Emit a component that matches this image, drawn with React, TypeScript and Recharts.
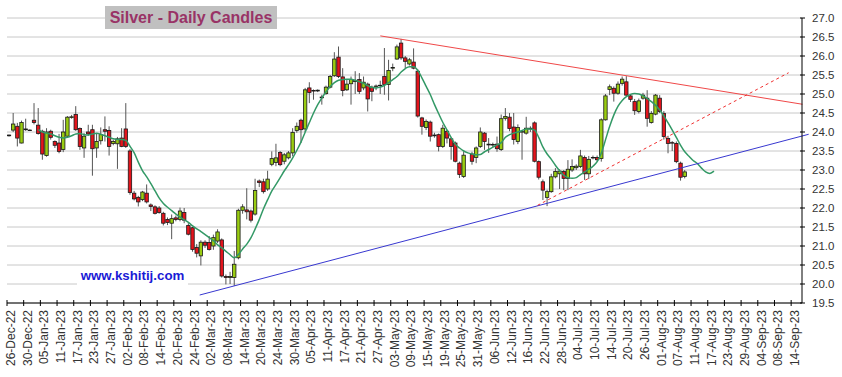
import {
  ComposedChart,
  Bar,
  Line,
  XAxis,
  YAxis,
  CartesianGrid,
  ReferenceLine,
} from "recharts";

// tick labels, one every 4 trading days
const tickDates = [
  "26-Dec-22", "30-Dec-22", "05-Jan-23", "11-Jan-23", "17-Jan-23", "23-Jan-23",
  "27-Jan-23", "02-Feb-23", "08-Feb-23", "14-Feb-23", "20-Feb-23", "24-Feb-23",
  "02-Mar-23", "08-Mar-23", "14-Mar-23", "20-Mar-23", "24-Mar-23", "30-Mar-23",
  "05-Apr-23", "11-Apr-23", "17-Apr-23", "21-Apr-23", "27-Apr-23", "03-May-23",
  "09-May-23", "15-May-23", "19-May-23", "25-May-23", "31-May-23", "06-Jun-23",
  "12-Jun-23", "16-Jun-23", "22-Jun-23", "28-Jun-23", "04-Jul-23", "10-Jul-23",
  "14-Jul-23", "20-Jul-23", "26-Jul-23", "01-Aug-23", "07-Aug-23", "11-Aug-23",
  "17-Aug-23", "23-Aug-23", "29-Aug-23", "04-Sep-23", "08-Sep-23", "14-Sep-23",
];

const priceTicks = [19.5, 20, 20.5, 21, 21.5, 22, 22.5, 23, 23.5, 24, 24.5, 25, 25.5, 26, 26.5, 27];

// daily candles, one per weekday from 26-Dec-22 (null = no bar)
const opens = [
  23.92, 24.05, 24.15, 23.71, 24.08, 24.05, 24.31, 24.18, 24.02, 23.38,
  24.02, 23.75, 23.71, 23.54, 23.89, 24.38, 24.46, 24.09, 23.58, 24.0,
  24.06, 23.58, 23.77, 24.06, 24.04, 23.7, 23.69, 23.84, 24.08, 23.5,
  22.39, 22.28, 22.22, 22.39, 22.08, 22.03, 22.0, 21.86, 21.7, 21.6,
  21.74, 21.7, 21.88, 21.54, 21.48, 20.96, 20.74, 21.1, 21.09, 21.0,
  21.13, 21.16, 20.2, 20.17, 20.17, 20.69, 21.94, 21.95, 21.92, 21.84,
  22.71, 22.69, 22.5, 23.15, 23.2, 23.46, 23.23, 23.32, 23.45, 24.04,
  24.31, 24.08, 25.16, 25.09, 25.08, 24.92, 25.01, 25.18, 25.48, 25.97,
  25.45, 25.11, 25.27, 25.36, 25.38, 25.16, 25.26, 25.18, 25.2, 25.22,
  25.46, 25.25, 25.68, 25.92, 26.34, 25.95, 25.79, 25.84, 25.6, 24.37,
  24.12, 24.26, 23.9, 23.93, 23.62, 24.02, 23.82, 23.71, 23.18, 22.83,
  null, 23.42, 23.33, 23.62, 23.97, 23.68, 23.66, 23.68, 23.54, 24.36,
  24.39, 24.13, 23.75, 24.0, 23.97, 24.08, 24.24, 23.22, 22.69, 22.28,
  22.43, 22.82, 22.9, 22.96, 22.78, 23.0, 23.06, 23.09, 23.33, 22.9,
  23.32, 23.33, 23.3, 24.32, 25.12, 25.15, 25.02, 25.28, 25.32, 24.95,
  24.8, 24.54, 24.89, 24.89, 24.25, 24.47, 24.89, 24.49, 23.83, 23.72,
  23.7, 23.18, 22.83,
];
const highs = [
  23.93, 24.5, 24.24, 24.3, 24.35, 24.07, 24.76, 24.63, 24.06, 24.1,
  24.06, 23.78, 23.95, 24.32, 24.42, 24.45, 24.68, 24.12, 23.97, 24.19,
  24.19, 23.95, 24.12, 24.41, 24.15, 23.8, 23.87, 24.1, 24.76, 23.55,
  22.45, 22.32, 22.45, 22.62, 22.12, 22.07, 22.05, 21.9, 21.75, 21.83,
  21.8, 22.01, 22.0, 21.6, 21.5, 21.05, 21.15, 21.15, 21.26, 21.3,
  21.44, 21.2, 20.25, 20.32, 20.87, 21.98, 22.1, 22.52, 21.96, 22.77,
  22.75, 22.77, 22.98, 23.49, 23.69, 23.5, 23.45, 23.5, 24.1, 24.25,
  24.35, 25.16, 25.31, 25.12, 25.12, 24.98, 25.22, 25.5, 26.1, 26.25,
  25.68, 25.38, 25.46, 25.6, 25.55, 25.46, 25.3, 25.22, 25.25, 25.35,
  26.21, 25.9, 25.8, 26.3, 26.45, 26.0, 25.95, 26.2, 25.65, 24.4,
  24.33, 24.3, 23.98, 23.96, 24.19, 24.06, 23.85, 23.75, 23.22, 23.49,
  null, 23.48, 23.62, 24.12, 24.0, 23.84, 23.72, 23.88, 24.46, 24.63,
  24.5, 24.5, 24.2, 24.04, 24.4, 24.15, 24.28, 23.25, 22.75, 22.48,
  22.9, 23.05, 23.02, 23.0, 23.26, 23.28, 23.15, 23.53, 23.38, 23.37,
  23.38, 23.38, 24.36, 25.0, 25.25, 25.2, 25.33, 25.46, 25.47, 25.0,
  24.87, 24.88, 25.03, 25.1, 24.55, 25.0, 24.97, 24.55, 23.9, 23.76,
  23.75, 23.22, 23.0,
];
const lows = [
  23.88, 24.0, 23.62, 23.7, 24.03, 24.03, 24.2, 23.93, 23.27, 23.35,
  23.8, 23.58, 23.44, 23.47, 23.85, 24.35, 24.03, 23.53, 23.32, 23.9,
  22.85, 23.32, 23.67, 23.75, 23.38, 23.65, 23.03, 23.6, 23.58, 22.35,
  22.2, 22.04, 22.18, 22.12, 21.92, 21.83, 21.85, 21.54, 21.55, 21.18,
  21.65, 21.65, 21.6, 21.28, 20.85, 20.7, 20.49, 20.95, 20.88, 20.9,
  21.08, 20.17, 19.99, 20.0, 19.95, 20.65, 21.85, 21.7, 21.62, 21.8,
  22.55, 22.38, 22.45, 23.1, 23.1, 23.1, 23.15, 23.28, 23.36, 23.98,
  23.71, 24.0, 24.76, 24.85, 25.05, 24.72, 24.98, 25.15, 25.45, 25.42,
  24.94, 25.08, 24.72, 25.0, 25.0, 25.1, 24.54, 24.81, 25.1, 25.0,
  24.98, 24.83, 25.6, 25.9, 25.9, 25.68, 25.75, 25.65, 24.38, 23.93,
  24.05, 23.75, 23.85, 23.49, 23.58, 23.7, 23.27, 23.2, 22.79, 22.79,
  null, 23.14, 23.18, 23.58, 23.53, 23.45, 23.6, 23.48, 23.5, 24.3,
  24.02, 23.67, 23.68, 23.27, 23.93, 24.0, 23.2, 22.75, 22.21, 22.05,
  22.4, 22.78, 22.5, 22.47, 22.47, 22.95, 23.0, 23.05, 22.74, 22.76,
  23.28, 23.22, 23.22, 24.3, 24.97, 24.8, 24.98, 25.22, 24.95, 24.79,
  24.45, 24.49, 24.85, 24.14, 24.22, 24.44, 24.5, 23.8, 23.44, 23.5,
  23.18, 22.72, 22.78,
];
const closes = [
  23.9, 24.21, 23.84, 24.25, 24.06, 24.04, 24.25, 23.96, 23.42, 24.0,
  23.86, 23.65, 23.49, 24.0, 24.39, 24.4, 24.06, 23.62, 23.89, 23.95,
  23.56, 23.75, 23.93, 24.02, 23.62, 23.75, 23.82, 23.62, 23.62, 22.41,
  22.24, 22.16, 22.42, 22.16, 22.04, 21.86, 21.88, 21.6, 21.62, 21.72,
  21.7, 21.92, 21.68, 21.31, 20.91, 20.81, 21.1, 21.02, 20.91, 21.22,
  21.37, 20.21, 20.17, 20.2, 20.52, 21.94, 22.03, 21.9, 21.68, 22.46,
  22.67, 22.43, 22.76, 23.3, 23.32, 23.14, 23.4, 23.45, 23.99, 24.15,
  24.06, 25.11, 25.04, 25.08, 25.1, 24.9, 25.18, 25.46, 25.92, 25.46,
  25.09, 25.26, 25.38, 25.33, 25.07, 25.31, 24.87, 25.07, 25.21, 25.23,
  25.25, 25.62, 25.7, 26.24, 25.95, 25.86, 25.9, 25.68, 24.42, 24.15,
  24.28, 23.89, 23.92, 23.62, 24.1, 23.84, 23.62, 23.23, 22.88, 23.39,
  null, 23.23, 23.58, 24.0, 23.75, 23.66, 23.67, 23.56, 24.35, 24.41,
  24.09, 23.8, 24.12, 24.01, 24.1, 24.1, 23.23, 22.81, 22.47, 22.43,
  22.82, 22.96, 22.97, 22.78, 23.02, 23.09, 23.1, 23.37, 22.9, 23.28,
  23.33, 23.27, 24.32, 24.95, 25.19, 25.02, 25.26, 25.39, 24.97, 24.86,
  24.56, 24.82, 24.97, 24.36, 24.49, 24.97, 24.54, 23.88, 23.7, 23.71,
  23.22, 22.81, 22.95,
];

// green average line, starts on the 8th bar and runs past the last candle
const maStart = 7;
const movingAvg = [
  24.06, 24.0, 23.97, 23.95, 23.9, 23.86, 23.84, 23.86, 23.9, 23.95,
  23.96, 23.93, 23.92, 23.95, 23.97, 23.94, 23.9, 23.86, 23.82, 23.8,
  23.8, 23.78, 23.62, 23.45, 23.2, 22.98, 22.82, 22.64, 22.45, 22.26,
  22.12, 22.02, 21.93, 21.84, 21.76, 21.69, 21.62, 21.53, 21.45, 21.38,
  21.3, 21.22, 21.14, 21.03, 20.95, 20.86, 20.77, 20.69, 20.78, 20.92,
  21.05, 21.22, 21.45, 21.7, 21.98, 22.22, 22.45, 22.62, 22.8, 22.98,
  23.14, 23.32, 23.52, 23.74, 24.0, 24.25, 24.5, 24.72, 24.9, 25.06,
  25.2, 25.3, 25.36, 25.38, 25.39, 25.39, 25.36, 25.32, 25.28, 25.22,
  25.17, 25.16, 25.18, 25.23, 25.3, 25.38, 25.46, 25.58, 25.67, 25.72,
  25.72, 25.62, 25.42, 25.2, 24.98, 24.72, 24.48, 24.25, 24.05, 23.85,
  23.68, 23.58, 23.5, 23.45, 23.42, 23.4, 23.41, 23.48, 23.54, 23.6,
  23.66, 23.72, 23.86, 23.93, 23.97, 24.0, 24.04, 24.08, 24.08, 24.05,
  23.85, 23.6, 23.42, 23.28, 23.12, 22.98, 22.86, 22.8, 22.78, 22.8,
  22.88, 22.95, 23.02, 23.1, 23.22, 23.45, 23.8, 24.15, 24.45, 24.68,
  24.83, 24.93, 24.99, 25.01, 25.0, 24.95, 24.88, 24.8, 24.7, 24.58,
  24.42, 24.24, 24.05, 23.85, 23.65, 23.48, 23.36, 23.25, 23.17, 23.05,
  22.95, 22.91, 22.97,
];

// hand-drawn trend lines (day, price)
const resistance = [{ x: 89.5, y: 26.53 }, { x: 190.7, y: 24.73 }];
const support = [{ x: 46.2, y: 19.71 }, { x: 192.2, y: 23.94 }];
const channel = [{ x: 127.2, y: 22.07 }, { x: 187.4, y: 25.56 }];

const font = "'Liberation Sans', Arial, sans-serif";

const rows = Array.from({ length: maStart + movingAvg.length }, (_, i) => {
  const o = opens[i];
  const ok = o != null;
  return {
    day: i + 0.5,
    range: ok ? [lows[i], highs[i]] : null,
    open: ok ? o : null,
    high: ok ? highs[i] : null,
    low: ok ? lows[i] : null,
    close: ok ? closes[i] : null,
    ma: i >= maStart ? movingAvg[i - maStart] : null,
  };
});

function Candle(props: any) {
  const { x, y, width, height, payload } = props;
  if (payload.open == null || !height) return null;
  const { open, close, high, low } = payload;
  const cx = x + width / 2;
  const k = height / (high - low);
  const py = (v: number) => y + (high - v) * k;
  const top = py(Math.max(open, close));
  const bot = py(Math.min(open, close));
  return (
    <g>
      <line x1={cx} x2={cx} y1={y} y2={y + height} stroke="#555" strokeWidth={1} />
      <rect
        x={cx - 1.7}
        y={top}
        width={3.4}
        height={Math.max(bot - top, 0.5)}
        fill={close >= open ? "#99cc11" : "#e3141c"}
        stroke="#1a1a1a"
        strokeWidth={0.8}
      />
    </g>
  );
}

function XTick({ x, y, payload }: any) {
  const label = tickDates[Math.round(payload.value / 4)];
  return (
    <g>
      <line x1={x} x2={x} y1={y - 3} y2={y + 3} stroke="#000" />
      <text
        x={x}
        y={y + 7}
        dy={8}
        transform={`rotate(-90 ${x} ${y + 7})`}
        textAnchor="end"
        fontSize={12}
        fontFamily={font}
        fill="#333"
      >
        {label}
      </text>
    </g>
  );
}

function YTick({ x, y, payload }: any) {
  return (
    <g>
      <line x1={x - 2} x2={x + 3} y1={y} y2={y} stroke="#000" />
      <text x={x + 10} y={y} dy={4} fontSize={11.5} fontFamily={font} fill="#333">
        {payload.value.toFixed(1)}
      </text>
    </g>
  );
}

export default function App() {
  return (
    <div style={{ position: "absolute", left: 0, top: 0, width: 842, height: 377, background: "#fff" }}>
      <ComposedChart
        width={842}
        height={377}
        data={rows}
        margin={{ top: 18, right: 4, bottom: 4, left: 7 }}
      >
        <CartesianGrid vertical={false} stroke="#c8c8c8" />
        <XAxis
          dataKey="day"
          type="number"
          domain={[0, 190.6]}
          ticks={tickDates.map((_, k) => k * 4)}
          interval={0}
          allowDataOverflow
          height={70}
          tickLine={false}
          tickSize={0}
          tickMargin={0}
          axisLine={{ stroke: "#000" }}
          tick={<XTick />}
        />
        <YAxis
          orientation="right"
          domain={[19.5, 27]}
          ticks={priceTicks}
          interval={0}
          allowDataOverflow
          width={36}
          tickLine={false}
          tickSize={0}
          tickMargin={0}
          axisLine={{ stroke: "#000" }}
          tick={<YTick />}
        />
        <Bar dataKey="range" barSize={4} shape={(p: any) => <Candle {...p} />} isAnimationActive={false} />
        <Line
          dataKey="ma"
          type="monotone"
          stroke="#339966"
          strokeWidth={1.5}
          dot={false}
          activeDot={false}
          isAnimationActive={false}
        />
        <ReferenceLine segment={resistance} stroke="#f04848" strokeWidth={1} ifOverflow="visible" />
        <ReferenceLine segment={support} stroke="#3838d0" strokeWidth={1} ifOverflow="visible" />
        <ReferenceLine segment={channel} stroke="#f03030" strokeWidth={1} strokeDasharray="3 3" ifOverflow="visible" />
      </ComposedChart>

      <div
        style={{
          position: "absolute",
          left: 105,
          top: 6,
          width: 172,
          height: 23,
          lineHeight: "23px",
          background: "#c0c0c0",
          color: "#993366",
          fontFamily: font,
          fontWeight: "bold",
          fontSize: 16,
          textAlign: "center",
          whiteSpace: "nowrap",
        }}
      >
        Silver - Daily Candles
      </div>
      <div
        style={{
          position: "absolute",
          left: 77,
          top: 266,
          width: 111,
          height: 19,
          lineHeight: "19px",
          background: "#fff",
          color: "#1a1ad6",
          fontFamily: font,
          fontWeight: "bold",
          fontSize: 13.3,
          textAlign: "center",
          whiteSpace: "nowrap",
        }}
      >
        www.kshitij.com
      </div>
    </div>
  );
}
